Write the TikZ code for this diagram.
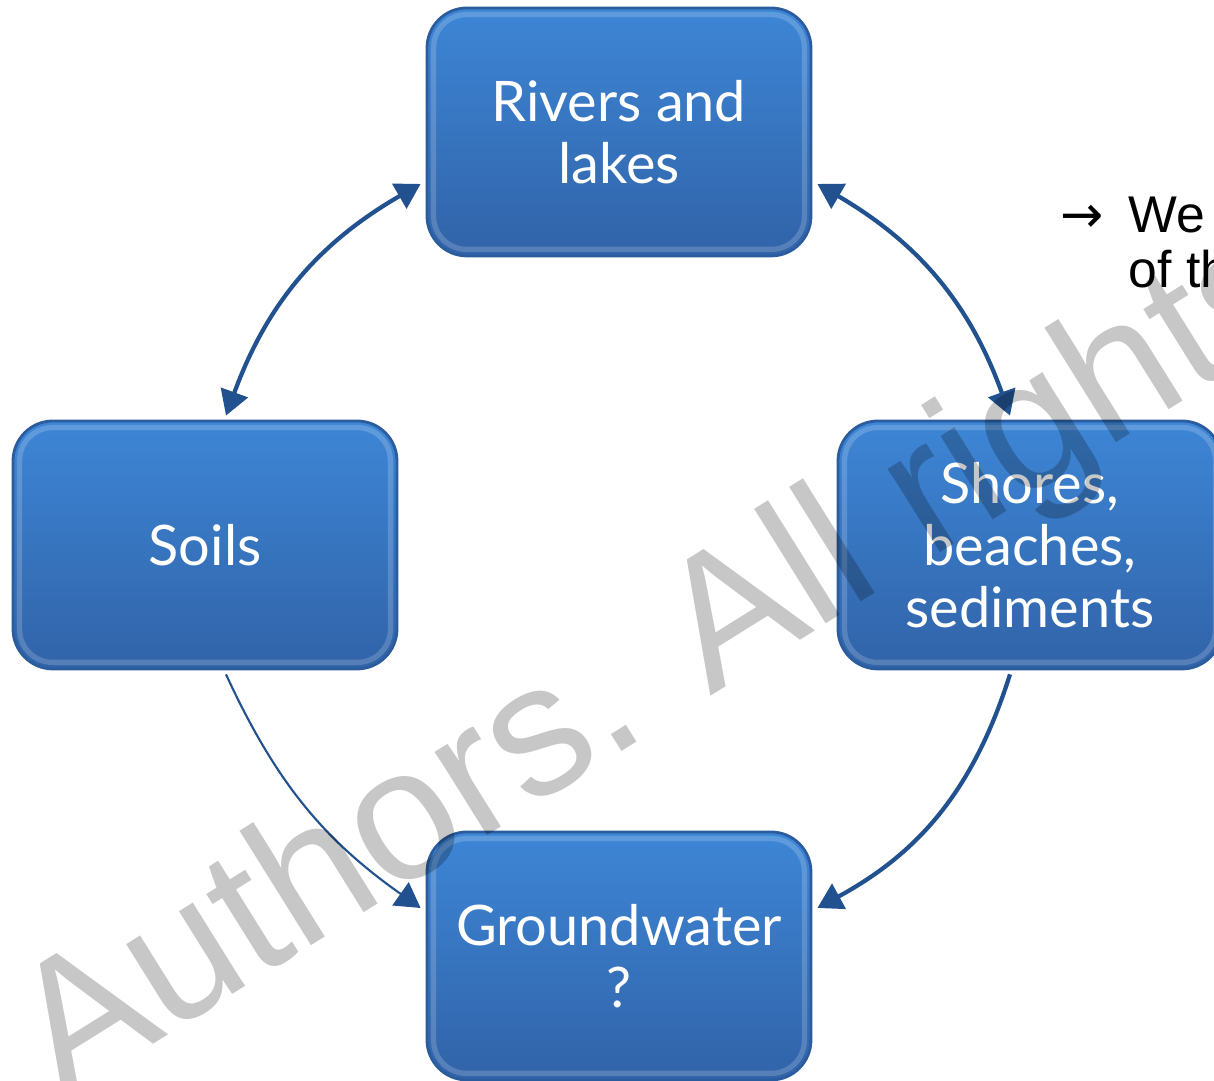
\documentclass[tikz,border=0pt]{standalone}
\usepackage{fontspec}
\setsansfont{Lato}
\newfontfamily\notefont{Liberation Sans}
\newfontfamily\arrowfont{DejaVu Sans}
\usetikzlibrary{arrows.meta,positioning,calc}
\definecolor{boxtop}{HTML}{3D86D6}
\definecolor{boxbottom}{HTML}{3163A8}
\definecolor{boxedge}{HTML}{2B5C9E}
\definecolor{flowblue}{HTML}{22518F}
\tikzset{
  waterbox/.style={
    rectangle, rounded corners=0.4cm, draw=boxedge, thick,
    top color=boxtop, bottom color=boxbottom,
    minimum width=3.84cm, minimum height=2.48cm,
    font=\sffamily\fontsize{15.9}{17.6}\selectfont, text=white, align=center,
    inner sep=4pt
  },
  flowarrow/.style={
    {Triangle[length=7pt,width=8pt]}-{Triangle[length=7pt,width=8pt]},
    line width=1.2pt, color=flowblue
  },
  seeparrow/.style={
    -{Triangle[length=7pt,width=8pt]}, line width=#1, color=flowblue
  },
  seeparrow/.default=1.2pt,
  notetext/.style={font=\notefont\fontsize{14.7}{15.6}\selectfont, text=black,
    inner sep=0pt},
  wmark/.style={font=\notefont\fontsize{53}{58}\selectfont, text=black,
    text opacity=0.22, inner sep=0pt},
}
\begin{document}
\begin{tikzpicture}
  \useasboundingbox (0,0) rectangle (12.14,10.81);
  \clip (0,0) rectangle (12.14,10.81);
  \fill[white] (0,0) rectangle (12.14,10.81);
  % the four compartments
  \node[waterbox] (rivers) at (6.19,9.49) {Rivers and\\lakes};
  \node[waterbox] at ([xshift=-4.14cm, yshift=-4.13cm]rivers.center) (soils) {Soils};
  \node[waterbox] at ([xshift=4.11cm, yshift=-4.13cm]rivers.center) (shores) {Shores,\\beaches,\\sediments};
  \node[waterbox] at ([yshift=-8.24cm]rivers.center) (ground) {Groundwater\\?};
  \foreach \b in {rivers,soils,shores,ground} {
    \draw[white, opacity=0.18, line width=1.5pt, rounded corners=0.33cm]
      ([shift={(0.08,0.08)}]\b.south west) rectangle ([shift={(-0.08,-0.08)}]\b.north east);
  }
  % transfers
  \draw[flowarrow] ([xshift=-0.05cm, yshift=-0.52cm]rivers.west) to[bend right=20] ([xshift=0.21cm, yshift=0.04cm]soils.north);
  \draw[flowarrow] ([xshift=0.05cm, yshift=-0.52cm]rivers.east) to[bend left=20] ([xshift=-0.20cm, yshift=0.04cm]shores.north);
  \draw[seeparrow=0.6pt] ([xshift=0.21cm, yshift=-0.04cm]soils.south) to[bend right=15] ([xshift=-0.05cm, yshift=0.48cm]ground.west);
  \draw[seeparrow] ([xshift=-0.20cm, yshift=-0.04cm]shores.south) to[bend left=22] ([xshift=0.05cm, yshift=0.48cm]ground.east);
  % side note (cut at the page edge)
  \node[notetext, anchor=base west] (note) at (10.60,8.48) {{\arrowfont →}\hspace{3pt} We};
  \node[notetext, anchor=base west] (notecont) at (11.28,7.93) {of th};
  % watermark
  \node[wmark, rotate=32, anchor=base west] (wm) at (0.63,-0.20) {Authors. All rights};
\end{tikzpicture}
\end{document}
